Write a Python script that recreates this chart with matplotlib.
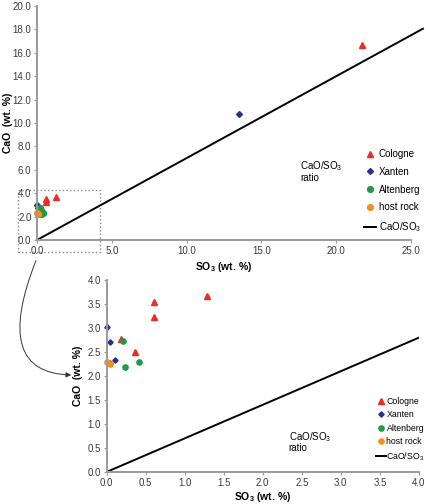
import matplotlib
matplotlib.use('Agg')
import matplotlib.pyplot as plt
import numpy as np
from matplotlib.patches import Rectangle, FancyArrowPatch

plt.rcParams['font.family'] = ['Liberation Sans', 'DejaVu Sans']
plt.rcParams['mathtext.fontset'] = 'custom'
plt.rcParams['mathtext.rm'] = 'Liberation Sans'
plt.rcParams['mathtext.bf'] = 'Liberation Sans:bold'

# data (SO3, CaO in wt. %)
cologne_so3 = [0.61, 0.61, 1.29, 0.19, 0.37, 21.7]
cologne_cao = [3.54, 3.23, 3.66, 2.77, 2.50, 16.7]
xanten_so3 = [0.01, 0.04, 0.11, 0.04, 13.5]
xanten_cao = [3.02, 2.70, 2.34, 2.27, 10.8]
altenberg_so3 = [0.21, 0.24, 0.41]
altenberg_cao = [2.72, 2.18, 2.29]
host_so3 = [0.01, 0.05]
host_cao = [2.29, 2.25]
ratio = 0.7  # CaO/SO3 (gypsum)

groups = [
    ('Cologne', cologne_so3, cologne_cao, '^', '#ed2b24', 4.6),
    ('Xanten', xanten_so3, xanten_cao, 'D', '#2e2d8f', 3.0),
    ('Altenberg', altenberg_so3, altenberg_cao, 'o', '#1f9a48', 4.2),
    ('host rock', host_so3, host_cao, 'o', '#f7901e', 4.2),
]

W, H = 426, 504
fig = plt.figure(figsize=(W / 100, H / 100), dpi=100)

def px(l, t, r, b):
    return [l / W, 1 - b / H, (r - l) / W, (b - t) / H]

spine_c = '#9a9a9a'
tick_c = '#3a3a3a'

def style(ax):
    for s in ['top', 'right']:
        ax.spines[s].set_visible(False)
    for s in ['left', 'bottom']:
        ax.spines[s].set_color(spine_c)
        ax.spines[s].set_linewidth(1.4)
    ax.tick_params(direction='out', length=2, width=0.8, color=spine_c,
                   labelsize=7, labelcolor=tick_c, pad=2)
    ax.xaxis.set_major_formatter(plt.FormatStrFormatter('%.1f'))
    ax.yaxis.set_major_formatter(plt.FormatStrFormatter('%.1f'))

xlab = r'SO$_\mathbf{3}$ (wt. %)'
ylab = 'CaO  (wt. %)'

# ---- top: full range
ax1 = fig.add_axes(px(37, 6, 411, 240))
for name, x, y, m, c, ms in groups:
    ax1.plot(x, y, m, color=c, ms=ms, mec=c, ls='none', label=name, clip_on=False)
xl = np.array([0, 25.8])
ax1.plot(xl, ratio * xl, color='black', lw=1.4, label=r'CaO/SO$_3$', clip_on=False)
ax1.set_xlim(0, 25)
ax1.set_ylim(0, 20)
ax1.set_xticks(np.arange(0, 26, 5))
ax1.set_yticks(np.arange(0, 21, 2))
style(ax1)
ax1.set_xlabel(xlab, fontsize=7.5, fontweight='bold', labelpad=3)
ax1.set_ylabel(ylab, fontsize=7.5, fontweight='bold')
ax1.yaxis.set_label_coords(-0.064, 0.5)
ax1.text(17.6, 6.9, 'CaO/SO$_3$\nratio', fontsize=7, va='top', ha='left',
         linespacing=0.95)
ax1.add_patch(Rectangle((-1.27, -1.03), 5.47, 5.3, fill=False, ls=':',
                        ec='#888888', lw=1.0, clip_on=False))
ax1.legend(loc='upper left', bbox_to_anchor=(364 / W, 1 - 149 / H),
           bbox_transform=fig.transFigure, frameon=False, fontsize=7,
           handlelength=1.2, handletextpad=0.3, labelspacing=0.8,
           borderpad=0, borderaxespad=0)

# ---- bottom: zoom
ax2 = fig.add_axes(px(106.5, 280, 419, 472))
for name, x, y, m, c, ms in groups:
    ax2.plot(x, y, m, color=c, ms=ms * 0.9, mec=c, ls='none', label=name, clip_on=False)
xl2 = np.array([0, 4.0])
ax2.plot(xl2, ratio * xl2, color='black', lw=1.4, label=r'CaO/SO$_3$')
ax2.set_xlim(0, 4)
ax2.set_ylim(0, 4)
ax2.set_xticks(np.arange(0, 4.01, 0.5))
ax2.set_yticks(np.arange(0, 4.01, 0.5))
style(ax2)
ax2.set_xlabel(xlab, fontsize=7.5, fontweight='bold', labelpad=2)
ax2.set_ylabel(ylab, fontsize=7.5, fontweight='bold')
ax2.yaxis.set_label_coords(-0.076, 0.5)
ax2.text(2.33, 0.88, 'CaO/SO$_3$\nratio', fontsize=7, va='top', ha='left',
         linespacing=0.95)
ax2.legend(loc='upper left', bbox_to_anchor=(376 / W, 1 - 397 / H),
           bbox_transform=fig.transFigure, frameon=False, fontsize=6.3,
           handlelength=1.1, handletextpad=0.1, labelspacing=0.5,
           borderpad=0, borderaxespad=0)

# curved arrow from zoom box to the lower plot
fig.add_artist(FancyArrowPatch(
    (37 / W, 1 - 258 / H), (74 / W, 1 - 375 / H), transform=fig.transFigure,
    connectionstyle='angle3,angleA=-112,angleB=0',
    arrowstyle='-|>,head_length=3,head_width=1.5',
    color='#333333', lw=0.7))

fig.savefig('out.png', dpi=100)
